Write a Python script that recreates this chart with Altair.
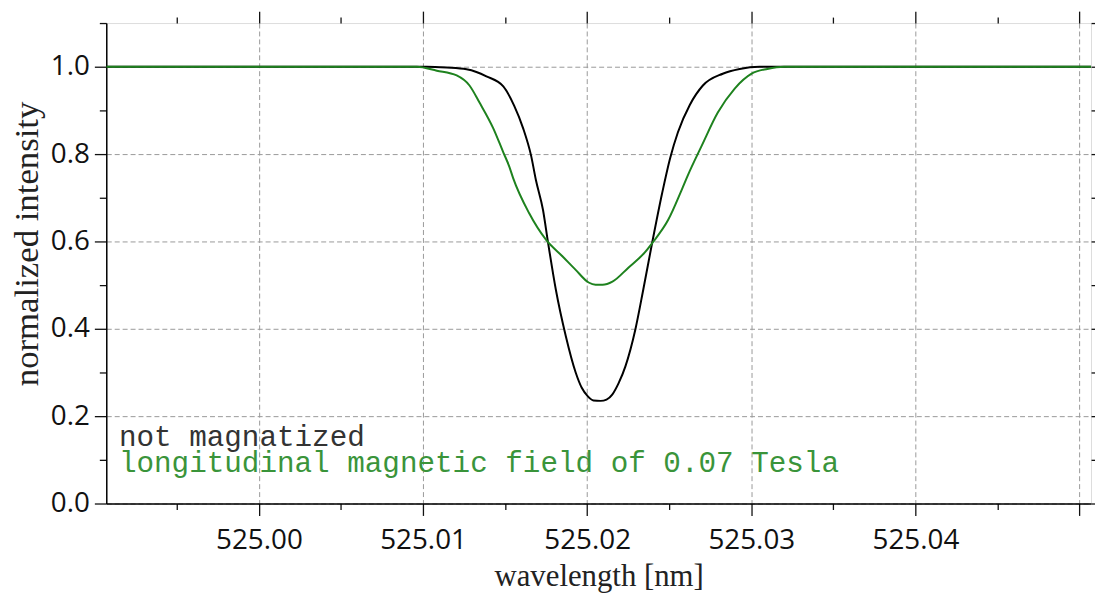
import altair as alt
import pandas as pd

# ---- data ----
wl_black = [524.9907, 525.01023, 525.01144, 525.01265, 525.01325, 525.01386, 525.01489,
            525.01555, 525.01610, 525.01658, 525.01688, 525.01731, 525.01761, 525.01809,
            525.01870, 525.01930, 525.01967, 525.02003, 525.02039, 525.02082, 525.02118,
            525.02154, 525.02191, 525.02233, 525.02294, 525.02342, 525.02396, 525.02457,
            525.02505, 525.02553, 525.02626, 525.02705, 525.02826, 525.02929,
            525.03050, 525.0507]
int_black = [1.0, 1.0, 0.998, 0.994, 0.988, 0.978, 0.955,
             0.911, 0.859, 0.797, 0.74, 0.672, 0.599, 0.49,
             0.383, 0.30, 0.265, 0.246, 0.236, 0.235, 0.238,
             0.25, 0.275, 0.314, 0.399, 0.49, 0.597, 0.711,
             0.79, 0.85, 0.913, 0.957, 0.984, 0.995,
             1.0, 1.0]

wl_green = [524.9907, 525.00962, 525.01084, 525.01205, 525.01283, 525.01344, 525.01428,
            525.01489, 525.01525, 525.01549, 525.01646, 525.01749, 525.01852, 525.01930,
            525.02009, 525.02051, 525.02094, 525.02154, 525.02251, 525.02354, 525.02402,
            525.02493, 525.02578, 525.02614, 525.02699, 525.02796, 525.02899, 525.03002,
            525.03098, 525.03200, 525.0507]
int_green = [1.0, 1.0, 0.991, 0.98, 0.957, 0.918, 0.859,
             0.804, 0.772, 0.745, 0.665, 0.604, 0.565, 0.535,
             0.506, 0.501, 0.501, 0.508, 0.540, 0.576, 0.599,
             0.649, 0.72, 0.752, 0.82, 0.895, 0.95, 0.984,
             0.995, 1.0, 1.0]

series_names = ["not magnatized", "longitudinal magnetic field of 0.07 Tesla"]
series_colors = ["#000000", "#1e821e"]
legend_colors = ["#333333", "#3a943a"]

x_ticks = [524.995, 525.00, 525.005, 525.01, 525.015, 525.02, 525.025,
           525.03, 525.035, 525.04, 525.045, 525.05]
y_ticks = [0.0, 0.1, 0.2, 0.3, 0.4, 0.5, 0.6, 0.7, 0.8, 0.9, 1.0, 1.1]

X_DOMAIN = [524.9907, 525.0507]
Y_DOMAIN = [0.0, 1.1]

rows = []
for w, v in zip(wl_black, int_black):
    rows.append({"wl": w, "I": v, "s": series_names[0], "o": len(rows)})
for w, v in zip(wl_green, int_green):
    rows.append({"wl": w, "I": v, "s": series_names[1], "o": len(rows)})
df = pd.DataFrame(rows)

legend_df = pd.DataFrame({
    "label": series_names,
    "color": legend_colors,
    "wl": [524.99147, 524.99147],
    "I": [0.131, 0.072],
})

x_major = "round(datum.value*200) % 2 == 0"
y_major = "round(datum.value*10) % 2 == 0"

xscale = alt.Scale(domain=X_DOMAIN, nice=False, zero=False)
yscale = alt.Scale(domain=Y_DOMAIN, nice=False)

axis_common = dict(
    domainColor="#000000", domainWidth=1.5,
    tickColor="#111111", tickWidth=1.3,
    labelFont="Open Sans", labelFontSize=28, labelColor="#111111",
    titleFont="Liberation Serif", titleFontWeight="normal",
    titleColor="#222222",
    gridColor="#999999", gridDash=[5, 3], gridWidth=1,
)

x_bottom = alt.Axis(
    values=x_ticks, orient="bottom", title="wavelength [nm]", titleFontSize=31,
    tickSize={"condition": {"test": x_major, "value": 12}, "value": 6},
    gridOpacity={"condition": {"test": x_major, "value": 1}, "value": 0},
    labelExpr="(round(datum.value*200) % 2 == 0 && datum.value < 525.045) ? format(datum.value, '.2f') : ''",
    labelPadding=11, titlePadding=8, grid=True, **axis_common)
y_left = alt.Axis(
    values=y_ticks, orient="left", title="normalized intensity", titleFontSize=35,
    titleY=222,
    tickSize={"condition": {"test": y_major, "value": 12}, "value": 7},
    gridOpacity={"condition": {"test": y_major, "value": 1}, "value": 0},
    labelExpr="(round(datum.value*10) % 2 == 0) ? format(datum.value, '.1f') : ''",
    labelPadding=5, titlePadding=6, grid=True, **axis_common)

x_top = alt.Axis(
    values=x_ticks, orient="top", title=None, labels=False, grid=False, domain=False,
    tickColor="#111111", tickWidth=1.3,
    tickSize={"condition": {"test": x_major, "value": 12}, "value": 6})
y_right = alt.Axis(
    values=y_ticks, orient="right", title=None, labels=False, grid=False, domain=False,
    tickColor="#111111", tickWidth=1.3,
    tickSize={"condition": {"test": y_major, "value": 12}, "value": 7})

lines = alt.Chart(df).mark_line(strokeWidth=2, interpolate="monotone", clip=True).encode(
    x=alt.X("wl:Q", scale=xscale, axis=x_bottom),
    y=alt.Y("I:Q", scale=yscale, axis=y_left),
    color=alt.Color("s:N", scale=alt.Scale(domain=series_names, range=series_colors), legend=None),
    order="o:Q",
)

frame_axes = alt.Chart(df).mark_line(opacity=0).encode(
    x=alt.X("wl:Q", scale=xscale, axis=x_top),
    y=alt.Y("I:Q", scale=yscale, axis=y_right),
    detail="s:N",
)

legend_text = alt.Chart(legend_df).mark_text(
    align="left", baseline="alphabetic", font="Liberation Mono", fontSize=29.5
).encode(
    x=alt.X("wl:Q", scale=xscale, axis=None),
    y=alt.Y("I:Q", scale=yscale, axis=None),
    text="label:N",
    color=alt.Color("color:N", scale=None),
)

chart = alt.layer(lines, frame_axes, legend_text).resolve_axis(
    x="independent", y="independent"
).properties(
    width=992, height=484,
    autosize=alt.AutoSizeParams(type="none"),
    padding={"left": 99, "top": 13, "right": 4, "bottom": 90},
).configure_view(stroke="#000000", strokeWidth=1.5).configure(background="white")

chart.save("out.html", embed_options={"renderer": "svg", "actions": False})
